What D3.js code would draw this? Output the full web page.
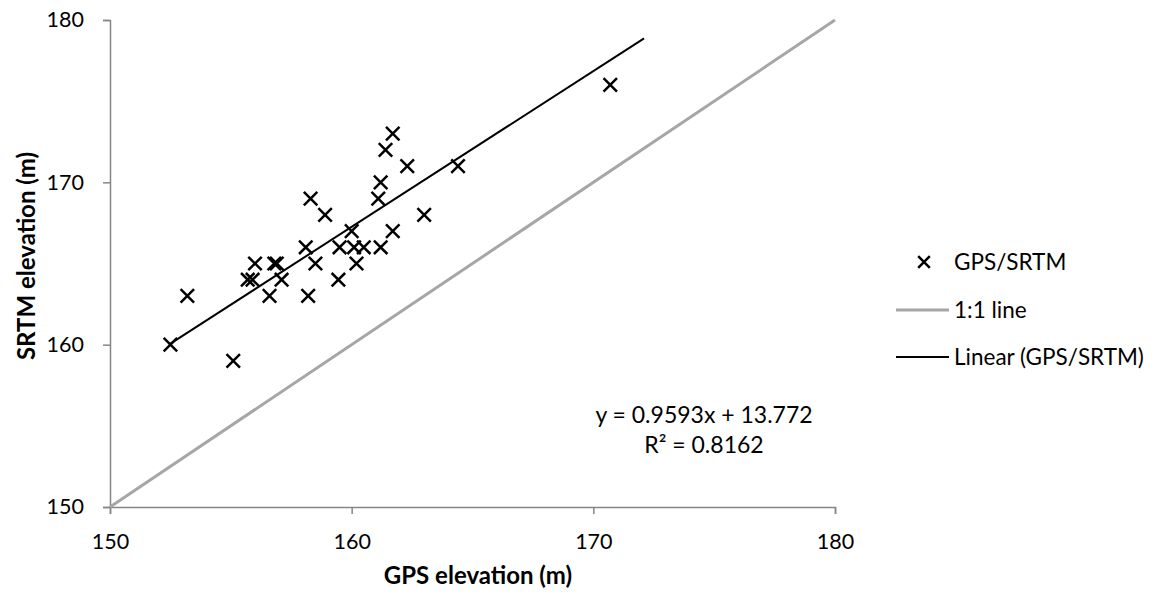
<!DOCTYPE html>
<html>
<head>
<meta charset="utf-8">
<script src="https://cdn.jsdelivr.net/npm/d3@7"></script>
<style>
  body { margin: 0; background: #fff; }
  svg { display: block; }
  text { font-family: Lato, "Open Sans", "Noto Sans", sans-serif; fill: #000; }
</style>
</head>
<body>
<svg id="chart" width="1166" height="597"></svg>
<script>
// GPS vs SRTM elevation pairs (m)
const gpsElevation = [152.5, 153.2, 155.1, 156.0, 155.7, 155.9, 156.8, 156.9, 156.6, 157.1,
  158.1, 158.2, 158.3, 158.5, 158.9, 159.45, 159.5, 160.0, 160.1, 160.5,
  160.2, 161.2, 161.7, 161.1, 161.2, 162.3, 163.0, 161.4, 161.7, 164.4, 170.7];
const srtmElevation = [160, 163, 159, 165, 164, 164, 165, 165, 163, 164,
  166, 163, 169, 165, 168, 164, 166, 167, 166, 166,
  165, 166, 167, 169, 170, 171, 168, 172, 173, 171, 176];

// Fitted trend (from the equation shown on the chart)
const trendSlope = 0.9593;
const trendIntercept = 13.772;
const trendR2 = 0.8162;
const trendExtent = [152.5, 172.1];

const xTicks = [150, 160, 170, 180];
const yTicks = [150, 160, 170, 180];
const legendLabels = ["GPS/SRTM", "1:1 line", "Linear (GPS/SRTM)"];

const svg = d3.select("#chart");
const plot = { left: 110, right: 835, top: 20, bottom: 507 };

const x = d3.scaleLinear().domain([150, 180]).range([plot.left, plot.right]);
const y = d3.scaleLinear().domain([150, 180]).range([plot.bottom, plot.top]);

const axisColor = "#868686";

// Axes
const xAxis = svg.append("g")
  .attr("transform", `translate(0,${plot.bottom})`)
  .call(d3.axisBottom(x).tickValues(xTicks).tickSize(7).tickPadding(20).tickFormat(d3.format("d")));
const yAxis = svg.append("g")
  .attr("transform", `translate(${plot.left},0)`)
  .call(d3.axisLeft(y).tickValues(yTicks).tickSize(7).tickPadding(19).tickFormat(d3.format("d")));
[xAxis, yAxis].forEach(g => {
  g.select(".domain").attr("stroke", axisColor).attr("stroke-width", 1.5);
  g.selectAll(".tick line").attr("stroke", axisColor).attr("stroke-width", 1.5);
  g.selectAll(".tick text").attr("font-size", 21.5).attr("font-family", "Lato, sans-serif").attr("fill", "#000");
});

// Axis titles
svg.append("text")
  .attr("x", 478).attr("y", 584)
  .attr("text-anchor", "middle").attr("font-weight", "bold").attr("font-size", 24)
  .text("GPS elevation (m)");
svg.append("text")
  .attr("transform", `translate(35,256) rotate(-90)`)
  .attr("text-anchor", "middle").attr("font-weight", "bold").attr("font-size", 24)
  .text("SRTM elevation (m)");

// 1:1 reference line
svg.append("line")
  .attr("x1", x(150)).attr("y1", y(150)).attr("x2", x(180)).attr("y2", y(180))
  .attr("stroke", "#a6a6a6").attr("stroke-width", 3);

// Linear trend line
const trend = d => trendSlope * d + trendIntercept;
svg.append("line")
  .attr("x1", x(trendExtent[0])).attr("y1", y(trend(trendExtent[0])))
  .attr("x2", x(trendExtent[1])).attr("y2", y(trend(trendExtent[1])))
  .attr("stroke", "#000").attr("stroke-width", 2);

// Scatter markers (x shape)
const cross = d3.symbol().type(d3.symbolX).size(120);
const points = gpsElevation.map((g, i) => ({ g, s: srtmElevation[i] }));
svg.append("g").selectAll("path").data(points).join("path")
  .attr("transform", d => `translate(${x(d.g)},${y(d.s)})`)
  .attr("d", cross)
  .attr("fill", "none").attr("stroke", "#000").attr("stroke-width", 2.5);

// Trend equation
svg.append("text").attr("x", 704).attr("y", 423).attr("text-anchor", "middle").attr("font-size", 23)
  .text(`y = ${trendSlope}x + ${trendIntercept}`);
svg.append("text").attr("x", 704).attr("y", 453).attr("text-anchor", "middle").attr("font-size", 23)
  .text(`R² = ${trendR2}`);

// Legend
const legend = svg.append("g");
const rowY = [262, 310, 357];
legendLabels.forEach((label, i) => {
  const gRow = legend.append("g").attr("transform", `translate(0,${rowY[i]})`);
  if (i === 0) {
    gRow.append("path").attr("transform", "translate(924,0)")
      .attr("d", d3.symbol().type(d3.symbolX).size(90))
      .attr("fill", "none").attr("stroke", "#000").attr("stroke-width", 2.5);
  } else {
    gRow.append("line").attr("x1", 896).attr("x2", 949).attr("y1", 0).attr("y2", 0)
      .attr("stroke", i === 1 ? "#a6a6a6" : "#000").attr("stroke-width", i === 1 ? 3 : 2);
  }
  gRow.append("text").attr("x", 954).attr("y", 0).attr("dy", "0.35em")
    .attr("font-size", 22.5).text(label);
});
</script>
</body>
</html>
